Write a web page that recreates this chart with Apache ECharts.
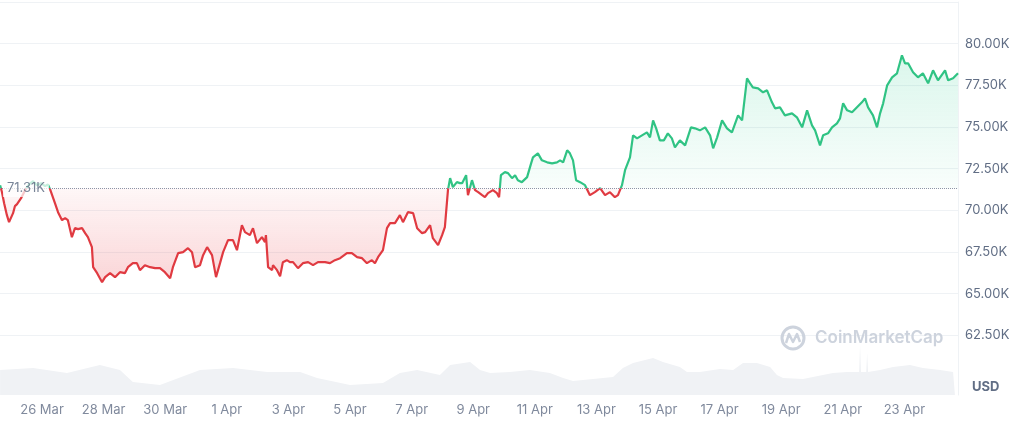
<!DOCTYPE html>
<html>
<head>
<meta charset="utf-8">
<script src="https://cdn.jsdelivr.net/npm/echarts@6/dist/echarts.min.js"></script>
<style>
  html, body { margin: 0; padding: 0; background: #fff; }
  #chart { width: 1024px; height: 426px; }
</style>
</head>
<body>
<div id="chart"></div>
<script>
// 价格数据（单位：千美元），横轴为距 3月26日 的天数
const baseline = 71.31;
const days = [
  -1.36, -1.30, -1.23, -1.14, -1.07, -1.01, -0.94, -0.88, -0.81, -0.68,
  -0.55, -0.42, -0.29, -0.16, -0.03, 0.10, 0.19, 0.26, 0.42, 0.52,
  0.65, 0.75, 0.84, 0.97, 1.07, 1.17, 1.30, 1.40, 1.49, 1.62,
  1.66, 1.79, 1.95, 2.05, 2.21, 2.37, 2.53, 2.69, 2.79, 2.95,
  3.08, 3.18, 3.34, 3.51, 3.67, 3.83, 3.99, 4.16, 4.25, 4.42,
  4.58, 4.74, 4.87, 4.97, 5.13, 5.23, 5.36, 5.52, 5.65, 5.78,
  5.88, 6.04, 6.20, 6.33, 6.49, 6.59, 6.75, 6.85, 6.98, 7.14,
  7.24, 7.27, 7.34, 7.47, 7.50, 7.63, 7.73, 7.82, 7.95, 8.05,
  8.15, 8.31, 8.47, 8.64, 8.80, 8.96, 9.19, 9.35, 9.51, 9.68,
  9.90, 10.06, 10.23, 10.39, 10.55, 10.71, 10.81, 10.91, 11.07, 11.20,
  11.30, 11.46, 11.62, 11.72, 11.88, 12.05, 12.18, 12.34, 12.44, 12.60,
  12.69, 12.86, 12.99, 13.08, 13.18, 13.25, 13.34, 13.47, 13.57, 13.64,
  13.77, 13.83, 13.96, 14.06, 14.16, 14.29, 14.38, 14.48, 14.64, 14.77,
  14.84, 14.90, 15.03, 15.13, 15.26, 15.36, 15.45, 15.58, 15.75, 15.88,
  15.94, 16.10, 16.23, 16.40, 16.56, 16.72, 16.82, 16.92, 17.05, 17.14,
  17.24, 17.34, 17.47, 17.63, 17.79, 17.95, 18.12, 18.28, 18.44, 18.60,
  18.70, 18.83, 18.93, 19.09, 19.19, 19.32, 19.48, 19.64, 19.74, 19.84,
  19.94, 20.06, 20.19, 20.32, 20.45, 20.55, 20.71, 20.88, 21.07, 21.20,
  21.36, 21.53, 21.69, 21.79, 21.92, 22.08, 22.24, 22.40, 22.60, 22.73,
  22.89, 22.99, 23.08, 23.25, 23.41, 23.54, 23.70, 23.80, 23.96, 24.12,
  24.35, 24.51, 24.68, 24.84, 25.00, 25.10, 25.26, 25.36, 25.52, 25.65,
  25.81, 25.91, 26.01, 26.14, 26.30, 26.46, 26.62, 26.72, 26.82, 26.98,
  27.11, 27.21, 27.31, 27.44, 27.60, 27.76, 27.92, 28.02, 28.12, 28.28,
  28.44, 28.60, 28.77, 28.93, 29.09, 29.32, 29.42, 29.58, 29.74
];
const prices = [
  71.50, 71.09, 70.43, 69.71, 69.29, 69.23, 69.83, 70.25, 70.37, 70.73,
  71.21, 71.56, 71.75, 71.51, 71.63, 71.45, 71.56, 71.27, 70.43, 69.89,
  69.41, 69.53, 69.41, 68.39, 68.93, 68.87, 68.93, 68.63, 68.39, 67.79,
  66.59, 66.23, 65.69, 65.99, 66.23, 65.99, 66.29, 66.23, 66.59, 66.83,
  66.83, 66.41, 66.71, 66.59, 66.53, 66.53, 66.29, 65.93, 66.59, 67.43,
  67.49, 67.73, 67.49, 66.59, 66.71, 67.31, 67.79, 67.31, 65.99, 66.83,
  67.49, 68.21, 68.21, 67.61, 69.11, 68.69, 68.51, 68.93, 68.03, 68.39,
  68.09, 68.51, 66.59, 66.41, 66.71, 66.41, 66.05, 66.89, 67.01, 66.89,
  66.89, 66.53, 66.83, 66.89, 66.71, 66.89, 66.89, 66.83, 67.01, 67.13,
  67.43, 67.43, 67.19, 67.13, 66.83, 67.01, 66.83, 67.19, 67.61, 68.93,
  69.23, 69.23, 69.71, 69.29, 69.89, 69.83, 68.93, 68.63, 68.69, 69.11,
  68.33, 67.91, 68.51, 68.99, 71.21, 71.93, 71.39, 71.69, 71.63, 71.63,
  72.11, 70.91, 71.81, 71.21, 71.09, 70.91, 70.79, 71.03, 71.21, 71.03,
  70.79, 72.11, 72.29, 72.23, 71.93, 72.11, 71.81, 71.69, 71.99, 72.82,
  73.18, 73.42, 73.00, 72.88, 72.82, 72.88, 73.00, 72.88, 73.60, 73.42,
  73.00, 71.81, 71.69, 71.51, 70.91, 71.09, 71.33, 70.91, 71.09, 70.79,
  70.91, 71.51, 72.41, 73.18, 74.50, 74.32, 74.50, 74.68, 74.38, 75.40,
  74.92, 74.20, 74.20, 74.62, 74.32, 73.78, 74.20, 73.90, 74.98, 74.92,
  74.80, 74.98, 74.50, 73.72, 74.38, 75.40, 74.92, 74.68, 75.70, 75.40,
  77.92, 77.62, 77.38, 77.32, 77.08, 77.20, 76.48, 76.12, 76.18, 75.70,
  75.82, 75.58, 74.98, 76.00, 75.10, 74.80, 73.90, 74.50, 74.62, 74.98,
  75.22, 75.52, 76.42, 76.00, 75.88, 76.18, 76.48, 76.72, 76.18, 75.70,
  74.98, 75.82, 76.42, 77.50, 77.98, 78.22, 79.30, 78.82, 78.82, 78.28,
  77.98, 78.22, 77.62, 78.40, 77.80, 78.40, 77.80, 77.92, 78.22
];
// 成交量（相对值）
const volDays = [
  -1.36, -0.29, 0.81, 1.88, 2.53, 2.95, 3.83, 5.13, 6.20, 7.31,
  8.38, 8.93, 10.00, 11.07, 11.62, 12.18, 12.92, 13.25, 13.90, 14.22,
  14.55, 15.19, 15.84, 16.49, 16.92, 17.24, 17.89, 18.54, 18.86, 19.19,
  19.84, 20.16, 20.71, 20.94, 21.36, 22.01, 22.44, 22.76, 23.21, 23.64,
  23.86, 24.06, 24.71, 25.03, 25.68, 26.14, 26.53, 26.56, 26.59, 26.76,
  26.79, 26.82, 27.21, 27.63, 28.18, 28.60, 29.16, 29.58, 29.64
];
const volumes = [
  25, 27, 22, 30, 25, 13, 10, 25, 27, 23,
  23, 17, 10, 12, 22, 25, 20, 30, 33, 25,
  22, 23, 25, 22, 17, 14, 16, 18, 27, 32,
  37, 33, 28, 23, 23, 26, 25, 32, 32, 28,
  20, 17, 16, 18, 22, 23, 23, 50, 23, 23,
  42, 23, 25, 28, 30, 27, 25, 23, 23
];
const tickDays = [0, 2, 4, 6, 8, 10, 12, 14, 16, 18, 20, 22, 24, 26, 28];
const tickLabels = ['26 Mar', '28 Mar', '30 Mar', '1 Apr', '3 Apr', '5 Apr', '7 Apr',
  '9 Apr', '11 Apr', '13 Apr', '15 Apr', '17 Apr', '19 Apr', '21 Apr', '23 Apr'];

const RED = '#e03a41';
const GREEN = '#30c384';
const xMin = -1.364;
const xMax = 29.74;

const lineData = days.map((d, i) => [d, prices[i]]);
const upData = days.map((d, i) => [d, Math.max(prices[i], baseline)]);
const downData = days.map((d, i) => [d, Math.min(prices[i], baseline)]);
const volData = volDays.map((d, i) => [d, volumes[i]]);

const chart = echarts.init(document.getElementById('chart'));
const option = {
  animation: false,
  textStyle: { fontFamily: 'Inter' },
  grid: [
    { left: 0, right: 66, top: 2, bottom: 49 },
    { left: 0, right: 66, top: 345, bottom: 31 }
  ],
  xAxis: [
    {
      type: 'value', gridIndex: 0, min: xMin, max: xMax,
      axisLine: { show: false }, axisTick: { show: false },
      axisLabel: { show: false }, splitLine: { show: false }
    },
    {
      type: 'value', gridIndex: 1, min: xMin, max: xMax,
      axisLine: { show: false }, axisTick: { show: false },
      splitLine: { show: false },
      axisLabel: {
        customValues: tickDays,
        formatter: v => tickLabels[tickDays.indexOf(Math.round(v))] || '',
        color: '#808a9d', fontSize: 13, margin: 9
      }
    }
  ],
  yAxis: [
    {
      type: 'value', gridIndex: 0, position: 'right',
      min: 60, max: 82.5, interval: 2.5,
      axisLine: { show: true, onZero: false, lineStyle: { color: '#eff2f5' } },
      axisTick: { show: false },
      axisLabel: {
        showMinLabel: false, showMaxLabel: false,
        formatter: v => v.toFixed(2) + 'K',
        color: '#616e85', fontSize: 13, margin: 7
      },
      splitLine: { showMinLine: false, lineStyle: { color: '#eff2f5' } }
    },
    {
      type: 'value', gridIndex: 1, position: 'right', min: 0, max: 50,
      axisLine: { show: true, onZero: false, lineStyle: { color: '#eff2f5' } },
      axisTick: { show: false }, axisLabel: { show: false },
      splitLine: { show: false }
    }
  ],
  visualMap: {
    type: 'piecewise',
    show: false,
    seriesIndex: 2,
    dimension: 1,
    pieces: [
      { min: 50, max: baseline, color: RED },
      { min: baseline, max: 90, color: GREEN }
    ]
  },
  series: [
    {
      // 上涨区域填充
      type: 'line', xAxisIndex: 0, yAxisIndex: 0, data: upData,
      showSymbol: false, silent: true, z: 1,
      lineStyle: { width: 0 },
      areaStyle: {
        origin: baseline,
        color: new echarts.graphic.LinearGradient(0, 0, 0, 1, [
          { offset: 0, color: 'rgba(22,199,132,0.22)' },
          { offset: 1, color: 'rgba(22,199,132,0.04)' }
        ])
      }
    },
    {
      // 下跌区域填充
      type: 'line', xAxisIndex: 0, yAxisIndex: 0, data: downData,
      showSymbol: false, silent: true, z: 1,
      lineStyle: { width: 0 },
      areaStyle: {
        origin: baseline,
        color: new echarts.graphic.LinearGradient(0, 0, 0, 1, [
          { offset: 0, color: 'rgba(234,57,67,0.06)' },
          { offset: 1, color: 'rgba(234,57,67,0.30)' }
        ])
      }
    },
    {
      name: 'Price', type: 'line', xAxisIndex: 0, yAxisIndex: 0, data: lineData,
      showSymbol: false, z: 3,
      lineStyle: { width: 2.2 },
      markLine: {
        silent: true, symbol: 'none',
        lineStyle: { type: 'dotted', color: '#8d94a6', width: 1 },
        label: { show: false },
        data: [{ yAxis: baseline }]
      }
    },
    {
      // 基准价标签
      type: 'scatter', xAxisIndex: 0, yAxisIndex: 0,
      data: [[xMin, baseline]], silent: true, z: 5,
      symbol: 'rect', symbolSize: [46, 17], symbolOffset: [26, 0],
      itemStyle: { color: 'rgba(255,255,255,0.9)' },
      label: {
        show: true, position: 'inside',
        formatter: baseline.toFixed(2) + 'K',
        color: '#58667e', fontSize: 13, fontFamily: 'Inter'
      }
    },
    {
      name: 'Volume', type: 'line', xAxisIndex: 1, yAxisIndex: 1, data: volData,
      showSymbol: false, silent: true,
      lineStyle: { width: 0 },
      areaStyle: { color: '#f0f2f5', opacity: 1 }
    }
  ],
  graphic: [
    {
      type: 'text', left: 972, top: 381,
      style: { text: 'USD', fill: '#616e85', font: 'bold 13px Inter' }
    },
    {
      type: 'circle', shape: { cx: 793, cy: 338, r: 11 },
      style: { fill: 'none', stroke: '#cdd3dd', lineWidth: 3 }, z: 5
    },
    {
      type: 'polyline',
      shape: { points: [[786, 343], [789, 334], [793, 342], [797, 334], [800, 342]] },
      style: { fill: 'none', stroke: '#cdd3dd', lineWidth: 2.5, lineJoin: 'round' }, z: 5
    },
    {
      type: 'text', left: 815, top: 329,
      style: { text: 'CoinMarketCap', fill: '#cdd3dd', font: '600 17px Inter' }, z: 5
    }
  ]
};
chart.setOption(option);
</script>
</body>
</html>
